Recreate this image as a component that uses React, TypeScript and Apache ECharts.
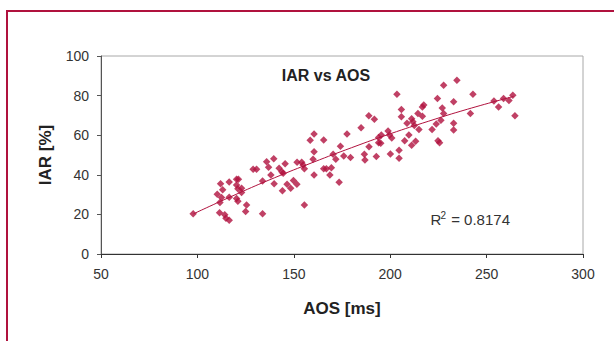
import React, { useEffect, useRef } from "react";
import * as echarts from "echarts";

const FONT = "'Liberation Sans', Arial, sans-serif";
const RED = "#B0123E";

// Scatter data: AOS [ms] and IAR [%] (parallel arrays)
const aosValues = [
  97.8, 110.3, 112.0, 113.1, 111.7, 112.5, 111.5, 114.2, 114.8, 116.5, 116.5, 116.5,
  120.3, 121.3, 120.3, 121.0, 122.9, 122.9, 120.3, 121.0, 125.5, 125.0, 133.8, 128.9,
  130.7, 133.8, 135.9, 136.9, 138.1, 139.6, 139.8, 142.4, 143.8, 145.5, 144.5, 144.1,
  146.5, 148.4, 149.8, 151.6, 151.7, 154.1, 154.8, 155.5, 155.5, 158.5, 160.5, 160.5,
  160.0, 160.5, 165.5, 165.5, 166.9, 169.5, 168.7, 170.4, 171.8, 174.2, 175.9, 173.5,
  177.6, 179.4, 184.9, 186.6, 186.9, 188.9, 191.8, 189.0, 192.8, 194.0, 195.4, 194.0,
  195.1, 198.9, 199.7, 200.8, 200.1, 203.5, 204.6, 204.6, 205.8, 205.8, 207.5, 208.7,
  209.7, 211.1, 211.8, 212.5, 211.1, 213.2, 214.4, 214.9, 216.7, 217.4, 216.7, 221.7,
  223.9, 224.5, 224.8, 225.6, 226.3, 227.0, 227.7, 227.7, 232.9, 232.9, 232.9, 234.6,
  241.6, 242.9, 253.8, 256.2, 258.8, 261.6, 263.6, 264.7,
];
const iarValues = [
  20.3, 30.2, 35.5, 32.5, 26.0, 28.5, 20.8, 19.8, 18.1, 17.1, 36.4, 28.7,
  34.9, 37.8, 37.8, 33.0, 33.2, 31.0, 28.0, 26.7, 24.7, 21.5, 20.3, 42.8,
  42.8, 36.9, 46.6, 43.8, 39.9, 48.1, 35.5, 43.3, 41.6, 45.6, 40.8, 31.9,
  35.2, 33.2, 37.1, 35.2, 46.3, 46.3, 45.0, 43.0, 24.7, 57.4, 60.6, 51.7,
  47.8, 39.9, 57.6, 43.1, 43.1, 43.5, 39.9, 50.4, 47.8, 54.4, 49.5, 36.3,
  60.6, 48.8, 63.7, 50.4, 47.5, 69.8, 68.1, 54.2, 49.3, 58.9, 60.1, 56.2,
  55.9, 62.1, 60.1, 58.6, 50.5, 80.7, 52.4, 48.3, 73.0, 69.3, 57.2, 66.0,
  60.1, 68.3, 66.8, 64.9, 54.9, 56.9, 71.0, 62.9, 74.2, 75.2, 69.6, 62.9,
  65.6, 78.5, 57.2, 56.2, 67.6, 73.7, 71.0, 85.2, 76.9, 66.0, 62.6, 87.8,
  71.0, 80.7, 77.3, 74.2, 78.5, 77.5, 80.2, 69.8,
];

// Trendline
const trendAos = [98, 120, 140, 160, 180, 200, 220, 240, 264];
const trendIar = [20.3, 30.1, 38.5, 46.3, 53.7, 60.7, 67.1, 73.1, 79.6];

const titleText = "IAR vs AOS";
const xName = "AOS [ms]";
const yName = "IAR [%]";
const rSquared = "0.8174";

export default function App() {
  const ref = useRef<HTMLDivElement>(null);
  useEffect(() => {
    document.body.style.margin = "0";
    if (!ref.current) return;
    const chart = echarts.init(ref.current, undefined, { renderer: "svg" });
    const points = aosValues.map((x, i) => [x, iarValues[i]]);
    const trend = trendAos.map((x, i) => [x, trendIar[i]]);
    chart.setOption({
      animation: false,
      backgroundColor: "#ffffff",
      grid: {
        left: 101,
        right: 31,
        top: 56,
        bottom: 87,
        show: true,
        borderColor: "#a8a8a8",
        borderWidth: 1,
        containLabel: false,
      },
      xAxis: {
        type: "value",
        min: 50,
        max: 300,
        interval: 50,
        name: xName,
        nameLocation: "middle",
        nameGap: 46,
        nameTextStyle: { fontFamily: FONT, fontSize: 17, fontWeight: "bold", color: "#222" },
        axisLine: { show: true, onZero: false, lineStyle: { color: "#333", width: 1 } },
        axisTick: { show: true, length: 4, lineStyle: { color: "#333" } },
        axisLabel: { margin: 13, fontSize: 14, color: "#333", fontFamily: FONT },
        splitLine: { show: false },
      },
      yAxis: {
        type: "value",
        min: 0,
        max: 100,
        interval: 20,
        name: yName,
        nameLocation: "middle",
        nameGap: 47,
        nameRotate: 90,
        nameTextStyle: { fontFamily: FONT, fontSize: 17, fontWeight: "bold", color: "#222" },
        axisLine: { show: true, lineStyle: { color: "#555", width: 1 } },
        axisTick: { show: true, length: 4, lineStyle: { color: "#555" } },
        axisLabel: { margin: 12, fontSize: 14, color: "#333", fontFamily: FONT },
        splitLine: { show: false },
      },
      series: [
        {
          type: "scatter",
          data: points,
          symbol: "diamond",
          symbolSize: 7.5,
          itemStyle: { color: RED },
        },
        {
          type: "line",
          data: trend,
          smooth: true,
          symbol: "none",
          showSymbol: false,
          lineStyle: { color: RED, width: 1 },
        },
      ],
      graphic: [
        { type: "line", shape: { x1: 7, y1: 11, x2: 614, y2: 11 }, style: { stroke: RED, lineWidth: 2 } },
        { type: "line", shape: { x1: 7, y1: 10, x2: 7, y2: 341 }, style: { stroke: RED, lineWidth: 2 } },
        {
          type: "text",
          x: 326,
          y: 75,
          style: { text: titleText, fill: "#222", font: `bold 16px ${FONT}`, align: "center", verticalAlign: "middle" },
        },
        {
          type: "text",
          x: 430.5,
          y: 219.8,
          style: { text: "R", fill: "#333", font: `15px ${FONT}`, align: "left", verticalAlign: "middle" },
        },
        {
          type: "text",
          x: 440.5,
          y: 215,
          style: { text: "2", fill: "#333", font: `10px ${FONT}`, align: "left", verticalAlign: "middle" },
        },
        {
          type: "text",
          x: 447,
          y: 219.8,
          style: { text: " = " + rSquared, fill: "#333", font: `15px ${FONT}`, align: "left", verticalAlign: "middle" },
        },
      ],
    });
    return () => chart.dispose();
  }, []);
  return <div ref={ref} style={{ width: 614, height: 341 }} />;
}
